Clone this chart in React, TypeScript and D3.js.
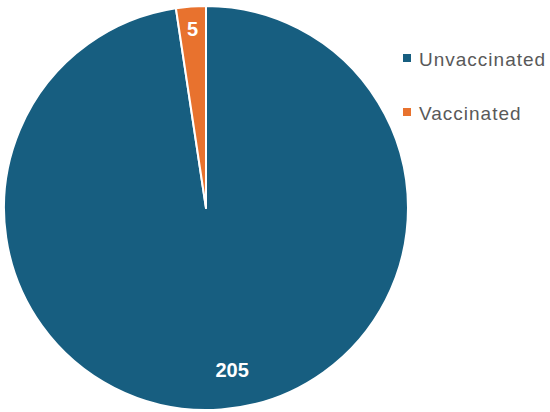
import React, { useEffect, useRef } from "react";
import * as d3 from "d3";

const categories = ["Unvaccinated", "Vaccinated"];
const counts = [205, 5];
const colors = ["#175E80", "#E8722E"];

export default function App() {
  const svgRef = useRef<SVGSVGElement>(null);

  useEffect(() => {
    const width = 550;
    const height = 412;
    const cx = 206;
    const cy = 208;
    const radius = 202;

    const svg = d3.select(svgRef.current);
    svg.selectAll("*").remove();
    svg.attr("width", width).attr("height", height);

    const data = categories.map((c, i) => ({ name: c, value: counts[i] }));
    const pie = d3.pie<{ name: string; value: number }>().sort(null).value((d) => d.value);
    const arcs = pie(data);

    const arc = d3.arc<d3.PieArcDatum<{ name: string; value: number }>>()
      .innerRadius(0)
      .outerRadius(radius);

    const g = svg.append("g").attr("transform", `translate(${cx},${cy})`);

    g.selectAll("path")
      .data(arcs)
      .join("path")
      .attr("d", arc)
      .attr("fill", (d, i) => colors[i])
      .attr("stroke", "#fff")
      .attr("stroke-width", 2)
      .attr("stroke-linejoin", "round");

    // label radii, Excel-style placement
    const labelR = [162, 180];
    const dx = [14, 0];
    g.selectAll("text.lbl")
      .data(arcs)
      .join("text")
      .attr("class", "lbl")
      .attr("x", (d, i) => {
        const a = (d.startAngle + d.endAngle) / 2;
        return Math.sin(a) * labelR[i] + dx[i];
      })
      .attr("y", (d, i) => {
        const a = (d.startAngle + d.endAngle) / 2;
        return -Math.cos(a) * labelR[i];
      })
      .attr("text-anchor", "middle")
      .attr("dominant-baseline", "central")
      .attr("fill", "#fff")
      .attr("font-family", "Liberation Sans, Arial, sans-serif")
      .attr("font-weight", "bold")
      .attr("font-size", 20)
      .text((d) => d.data.value);

    const legend = svg.append("g").attr("transform", "translate(403,58)");
    const item = legend.selectAll("g")
      .data(categories)
      .join("g")
      .attr("transform", (d, i) => `translate(0,${i * 54})`);
    item.append("rect")
      .attr("x", 0)
      .attr("y", -4)
      .attr("width", 8)
      .attr("height", 8)
      .attr("fill", (d, i) => colors[i]);
    item.append("text")
      .attr("x", 16)
      .attr("y", 1)
      .attr("dominant-baseline", "central")
      .attr("fill", "#595959")
      .attr("font-family", "Liberation Sans, Arial, sans-serif")
      .attr("font-size", 19)
      .attr("letter-spacing", 1)
      .text((d) => d);
  }, []);

  return (
    <div style={{ position: "absolute", left: 0, top: 0 }}>
      <svg ref={svgRef}></svg>
    </div>
  );
}
